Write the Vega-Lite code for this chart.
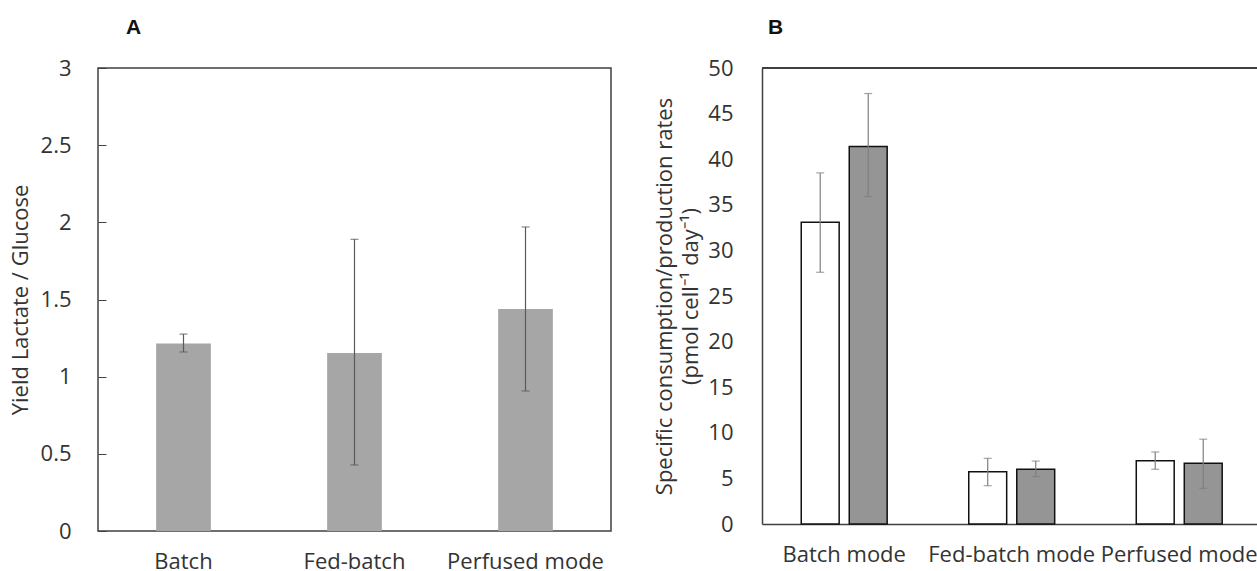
{
  "$schema": "https://vega.github.io/schema/vega-lite/v6.json",
  "background": "white",
  "padding": {"left": 8, "top": 16, "right": 0, "bottom": 0},
  "config": {
    "font": "Open Sans",
    "view": {"stroke": null},
    "axis": {
      "labelFont": "Open Sans", "titleFont": "Open Sans",
      "labelFontSize": 22, "titleFontSize": 22,
      "labelColor": "#333333", "titleColor": "#333333",
      "titleFontWeight": "normal", "grid": false,
      "domainColor": "#404040", "domainWidth": 1.5,
      "tickColor": "#404040"
    },
    "title": {"font": "Liberation Sans", "fontSize": 21, "fontWeight": "bold", "anchor": "start", "frame": "group", "color": "#111111"},
    "concat": {"spacing": 41}
  },
  "hconcat": [
    {
      "title": {"text": "A", "dx": 28, "offset": 19},
      "width": 513,
      "height": 463,
      "view": {"stroke": "#404040", "strokeWidth": 1.5},
      "data": {"values": [
        {"mode": "Batch", "yield": 1.215, "lo": 1.16, "hi": 1.276},
        {"mode": "Fed-batch", "yield": 1.154, "lo": 0.428, "hi": 1.89},
        {"mode": "Perfused mode", "yield": 1.439, "lo": 0.907, "hi": 1.97}
      ]},
      "layer": [
        {
          "mark": {"type": "bar", "color": "#a6a6a6"},
          "encoding": {
            "x": {"field": "mode", "type": "nominal", "sort": null,
                  "scale": {"paddingInner": 0.68, "paddingOuter": 0.34},
                  "axis": {"title": null, "labelAngle": 0, "ticks": false, "domain": false, "labelPadding": 20}},
            "y": {"field": "yield", "type": "quantitative",
                  "scale": {"domain": [0, 3]},
                  "axis": {"title": "Yield Lactate / Glucose", "values": [0, 0.5, 1, 1.5, 2, 2.5, 3], "format": "~g",
                           "domain": false, "tickSize": -8, "labelPadding": 35, "titlePadding": 8}}
          }
        },
        {
          "mark": {"type": "rule", "color": "#595959", "strokeWidth": 1.2},
          "encoding": {
            "x": {"field": "mode", "type": "nominal", "sort": null},
            "y": {"field": "lo", "type": "quantitative"},
            "y2": {"field": "hi"}
          }
        },
        {
          "mark": {"type": "tick", "color": "#595959", "size": 8, "thickness": 1.2},
          "encoding": {
            "x": {"field": "mode", "type": "nominal", "sort": null},
            "y": {"field": "lo", "type": "quantitative"}
          }
        },
        {
          "mark": {"type": "tick", "color": "#595959", "size": 8, "thickness": 1.2},
          "encoding": {
            "x": {"field": "mode", "type": "nominal", "sort": null},
            "y": {"field": "hi", "type": "quantitative"}
          }
        }
      ]
    },
    {
      "title": {"text": "B", "dx": 6, "offset": 19},
      "width": 495,
      "height": 456,
      "data": {"values": [
        {"mode": "Batch mode", "series": "Glucose", "rate": 33.1, "lo": 27.6, "hi": 38.5},
        {"mode": "Batch mode", "series": "Lactate", "rate": 41.4, "lo": 35.9, "hi": 47.2},
        {"mode": "Fed-batch mode", "series": "Glucose", "rate": 5.74, "lo": 4.2, "hi": 7.2},
        {"mode": "Fed-batch mode", "series": "Lactate", "rate": 6.0, "lo": 5.2, "hi": 6.9},
        {"mode": "Perfused mode", "series": "Glucose", "rate": 6.93, "lo": 6.0, "hi": 7.9},
        {"mode": "Perfused mode", "series": "Lactate", "rate": 6.67, "lo": 3.9, "hi": 9.3}
      ]},
      "layer": [
        {
          "mark": {"type": "rule", "color": "#404040", "strokeWidth": 1.5},
          "encoding": {"y": {"datum": 50}}
        },
        {
          "mark": {"type": "bar", "stroke": "#111111", "strokeWidth": 1.5},
          "encoding": {
            "x": {"field": "mode", "type": "nominal", "sort": null,
                  "scale": {"paddingInner": 0.487, "paddingOuter": 0.221, "align": 0.53},
                  "axis": {"title": null, "labelAngle": 0, "ticks": false, "labelPadding": 20}},
            "xOffset": {"field": "series", "type": "nominal", "sort": null,
                        "scale": {"paddingInner": 0.21, "paddingOuter": 0}},
            "y": {"field": "rate", "type": "quantitative",
                  "scale": {"domain": [0, 50]},
                  "axis": {"title": ["Specific consumption/production rates", "(pmol cell⁻¹ day⁻¹)"],
                           "titleLineHeight": 26,
                           "values": [0, 5, 10, 15, 20, 25, 30, 35, 40, 45, 50],
                           "ticks": false, "labelPadding": 29, "titlePadding": 5}},
            "fill": {"field": "series", "type": "nominal", "sort": null,
                     "scale": {"range": ["#ffffff", "#959595"]}, "legend": null}
          }
        },
        {
          "mark": {"type": "rule", "color": "#7f7f7f", "strokeWidth": 1.2},
          "encoding": {
            "x": {"field": "mode", "type": "nominal", "sort": null},
            "xOffset": {"field": "series", "type": "nominal", "sort": null},
            "y": {"field": "lo", "type": "quantitative"},
            "y2": {"field": "hi"}
          }
        },
        {
          "mark": {"type": "tick", "color": "#7f7f7f", "size": 8, "thickness": 1.2},
          "encoding": {
            "x": {"field": "mode", "type": "nominal", "sort": null},
            "xOffset": {"field": "series", "type": "nominal", "sort": null},
            "y": {"field": "lo", "type": "quantitative"}
          }
        },
        {
          "mark": {"type": "tick", "color": "#7f7f7f", "size": 8, "thickness": 1.2},
          "encoding": {
            "x": {"field": "mode", "type": "nominal", "sort": null},
            "xOffset": {"field": "series", "type": "nominal", "sort": null},
            "y": {"field": "hi", "type": "quantitative"}
          }
        }
      ]
    }
  ]
}
